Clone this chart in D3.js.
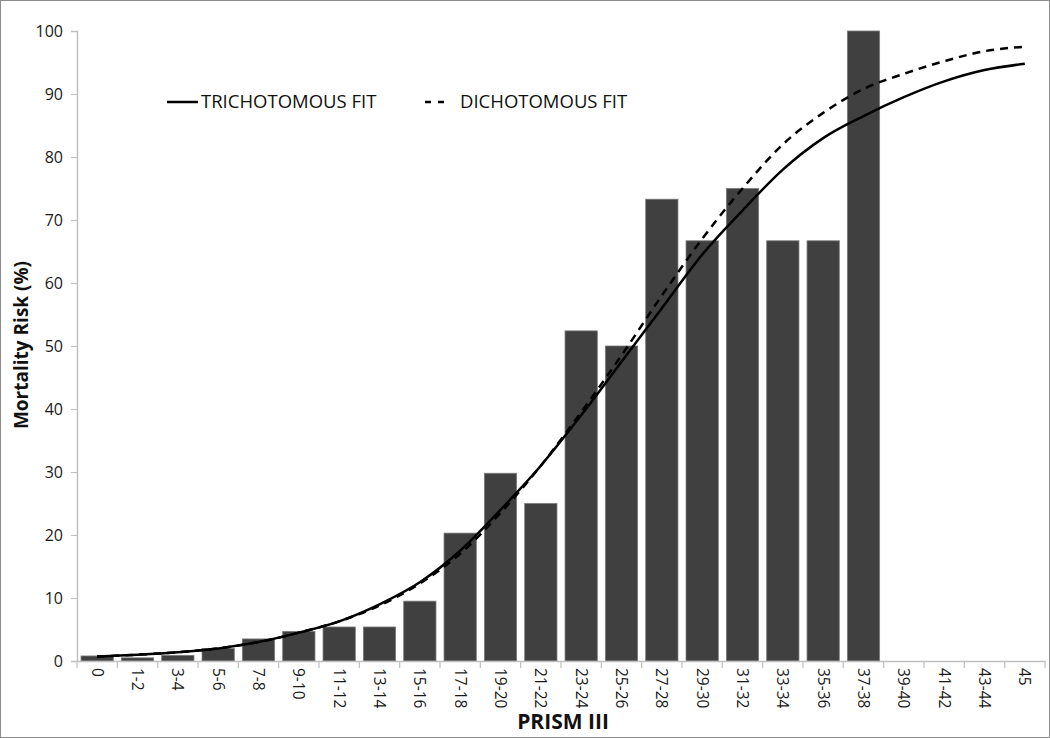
<!DOCTYPE html>
<html><head><meta charset="utf-8">
<script src="https://cdn.jsdelivr.net/npm/d3@7/dist/d3.min.js"></script>
<style>body{margin:0;background:#fff}svg{display:block}</style>
</head><body>
<script>
const categories = ["0","1-2","3-4","5-6","7-8","9-10","11-12","13-14","15-16","17-18","19-20","21-22","23-24","25-26","27-28","29-30","31-32","33-34","35-36","37-38","39-40","41-42","43-44","45"];
const observed = [0.8,0.5,0.9,2.0,3.5,4.7,5.4,5.4,9.5,20.3,29.8,25,52.4,50,73.3,66.7,75,66.7,66.7,100,null,null,null,null];
const trichotomous = [0.7,1.0,1.4,2.0,3.0,4.5,6.3,9.0,12.5,17.5,24,31,39,47.5,56,64.5,71.5,78,83,86.5,89.5,92,93.8,94.8];
const dichotomous = [0.7,1.0,1.4,2.0,3.0,4.5,6.3,8.8,12.3,17,23.5,31,39.5,48.5,58,67,75,82,87,90.8,93.2,95.2,96.8,97.5];
const yTicks = [0,10,20,30,40,50,60,70,80,90,100];

const W=1050,H=738;
const svg=d3.select("body").append("svg").attr("width",W).attr("height",H);
svg.append("rect").attr("x",0.5).attr("y",0.5).attr("width",W-1).attr("height",H-1).attr("fill","#fff").attr("stroke","#8c8c8c");

const L=77,R=1045,T=31,B=661;
const x=d3.scaleBand().domain(categories).range([L,R]).paddingInner(0.2).paddingOuter(0.1);
const xb=d3.scaleBand().domain(categories).range([L,R]);
const y=d3.scaleLinear().domain([0,100]).range([B,T]);
const font="'Open Sans', 'Noto Sans', sans-serif";

// bars
svg.append("g").selectAll("rect").data(categories.map((c,i)=>({c,v:observed[i]})).filter(d=>d.v!=null))
 .join("rect").attr("x",d=>x(d.c)).attr("width",x.bandwidth())
 .attr("y",d=>y(d.v)).attr("height",d=>B-y(d.v))
 .attr("fill","#404040").attr("stroke","#7a7a7a").attr("stroke-width",0.8);

// y axis
const ya=svg.append("g").attr("transform",`translate(${L},0)`)
 .call(d3.axisLeft(y).tickValues(yTicks).tickSize(6).tickPadding(8));
ya.select(".domain").attr("stroke","#bfbfbf").attr("stroke-width",1.5);
ya.selectAll(".tick line").attr("stroke","#bfbfbf");
ya.selectAll("text").attr("font-family",font).attr("font-size",16).attr("fill","#1a1a1a");

// x axis
const xa=svg.append("g").attr("transform",`translate(0,${B})`)
 .call(d3.axisBottom(xb).tickSize(0).tickSizeOuter(0));
xa.select(".domain").attr("stroke","#bfbfbf").attr("stroke-width",1.5);
xa.selectAll("text").attr("font-family",font).attr("font-size",15.5).attr("fill","#1a1a1a")
 .attr("transform","rotate(90)").attr("text-anchor","start").attr("dy","0.35em").attr("x",7).attr("y",0);
// boundary ticks
svg.append("g").selectAll("line").data(categories.concat(["__end"]))
 .join("line")
 .attr("x1",(d,i)=>i<categories.length?xb(d):R).attr("x2",(d,i)=>i<categories.length?xb(d):R)
 .attr("y1",B).attr("y2",B+7).attr("stroke","#bfbfbf").attr("stroke-width",1.2);

// curves
const cx=c=>xb(c)+xb.bandwidth()/2;
const line=d3.line().x(d=>cx(d.c)).y(d=>y(d.v)).curve(d3.curveMonotoneX);
svg.append("path").datum(categories.map((c,i)=>({c,v:dichotomous[i]})))
 .attr("d",line).attr("fill","none").attr("stroke","#000").attr("stroke-width",2.5).attr("stroke-dasharray","8,6");
svg.append("path").datum(categories.map((c,i)=>({c,v:trichotomous[i]})))
 .attr("d",line).attr("fill","none").attr("stroke","#000").attr("stroke-width",2.5);

// legend
const lg=svg.append("g");
lg.append("line").attr("x1",167).attr("x2",198).attr("y1",102).attr("y2",102).attr("stroke","#000").attr("stroke-width",2.5);
lg.append("text").attr("x",201).attr("y",102).attr("dy","0.35em").text("TRICHOTOMOUS FIT")
 .attr("font-family",font).attr("font-size",18.5).attr("fill","#111");
lg.append("line").attr("x1",425).attr("x2",447).attr("y1",102).attr("y2",102).attr("stroke","#000").attr("stroke-width",2.5).attr("stroke-dasharray","6,7");
lg.append("text").attr("x",460).attr("y",102).attr("dy","0.35em").text("DICHOTOMOUS FIT")
 .attr("font-family",font).attr("font-size",18.5).attr("fill","#111");

// titles
svg.append("text").attr("transform","translate(28,345) rotate(-90)").attr("text-anchor","middle")
 .attr("font-family",font).attr("font-weight","bold").attr("font-size",19).attr("fill","#111").text("Mortality Risk (%)");
svg.append("text").attr("x",563).attr("y",729).attr("text-anchor","middle")
 .attr("font-family",font).attr("font-weight","bold").attr("font-size",21).attr("fill","#111").text("PRISM III");
</script>
</body></html>
